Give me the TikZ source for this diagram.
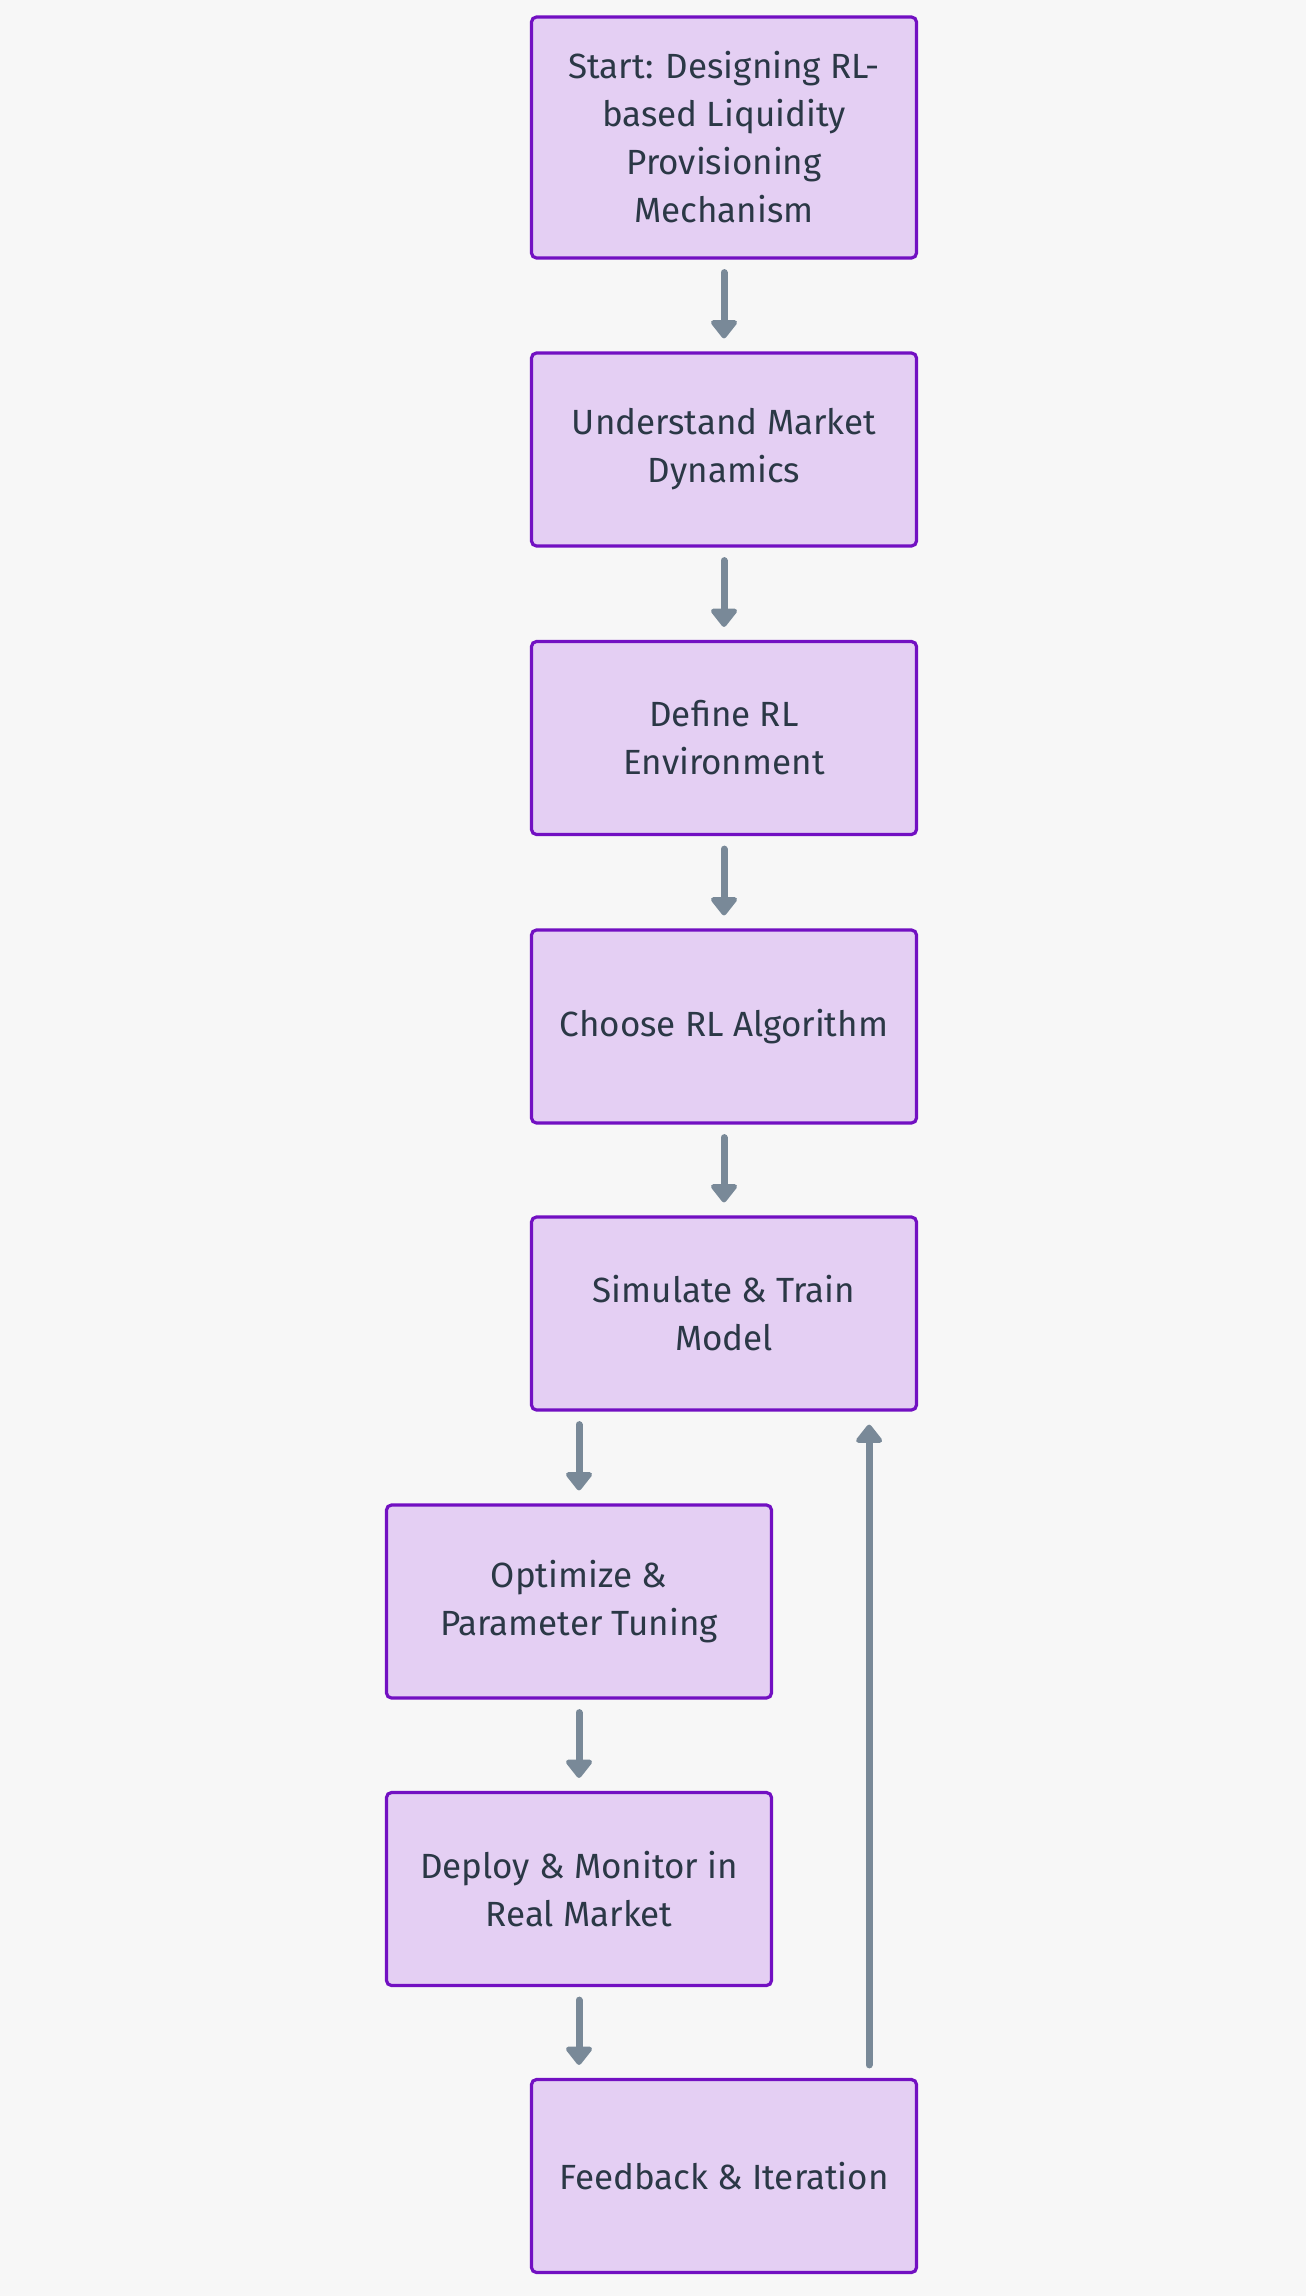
\documentclass[tikz,border=0pt]{standalone}
\usepackage{fontspec}
\setmainfont{Fira Sans}
\usetikzlibrary{arrows.meta}
\definecolor{bgc}{HTML}{F7F7F7}
\definecolor{boxfill}{HTML}{E4CFF3}
\definecolor{boxline}{HTML}{7210C2}
\definecolor{arrc}{HTML}{798998}
\definecolor{txtc}{HTML}{2B3846}
\tikzset{
  stepbox/.style={draw=boxline, fill=boxfill, line width=1.6pt, rounded corners=2.5pt,
    minimum width=192.5pt, minimum height=96.5pt, align=center, text=txtc,
    font=\fontsize{17.5pt}{24pt}\selectfont, inner sep=0pt},
  flow/.style={draw=arrc, line width=3.5pt, line cap=round,
    -{Triangle[width=15pt,length=10pt,round]}, shorten <=6.5pt, shorten >=6.5pt}
}
\begin{document}
\begin{tikzpicture}[x=0.5pt,y=-0.5pt]
\fill[bgc] (0,0) rectangle (1306,2296);
\useasboundingbox (0,0) rectangle (1306,2296);
\node[stepbox, minimum height=120.5pt] (b1) at (724,137.5) {Start: Designing RL-\\based Liquidity\\Provisioning\\Mechanism};
\node[stepbox] (b2) at (724,449.5) {Understand Market\\Dynamics};
\node[stepbox] (b3) at (724,738) {Define RL\\Environment};
\node[stepbox] (b4) at (724,1026.5) {Choose RL Algorithm};
\node[stepbox] (b5) at (724,1313.5) {Simulate \& Train\\Model};
\node[stepbox] (b6) at (579,1601.5) {Optimize \&\\Parameter Tuning};
\node[stepbox] (b7) at (579,1889) {Deploy \& Monitor in\\Real Market};
\node[stepbox] (b8) at (724,2176) {Feedback \& Iteration};
\draw[flow] (b1.south) -- (b2.north);
\draw[flow] (b2.south) -- (b3.north);
\draw[flow] (b3.south) -- (b4.north);
\draw[flow] (b4.south) -- (b5.north);
\draw[flow] (b5.south -| b6.north) -- (b6.north);
\draw[flow] (b6.south) -- (b7.north);
\draw[flow] (b7.south) -- (b7.south |- b8.north);
\draw[flow] ([xshift=-24.5pt]b8.north east) -- ([xshift=-24.5pt]b5.south east);
\end{tikzpicture}
\end{document}
